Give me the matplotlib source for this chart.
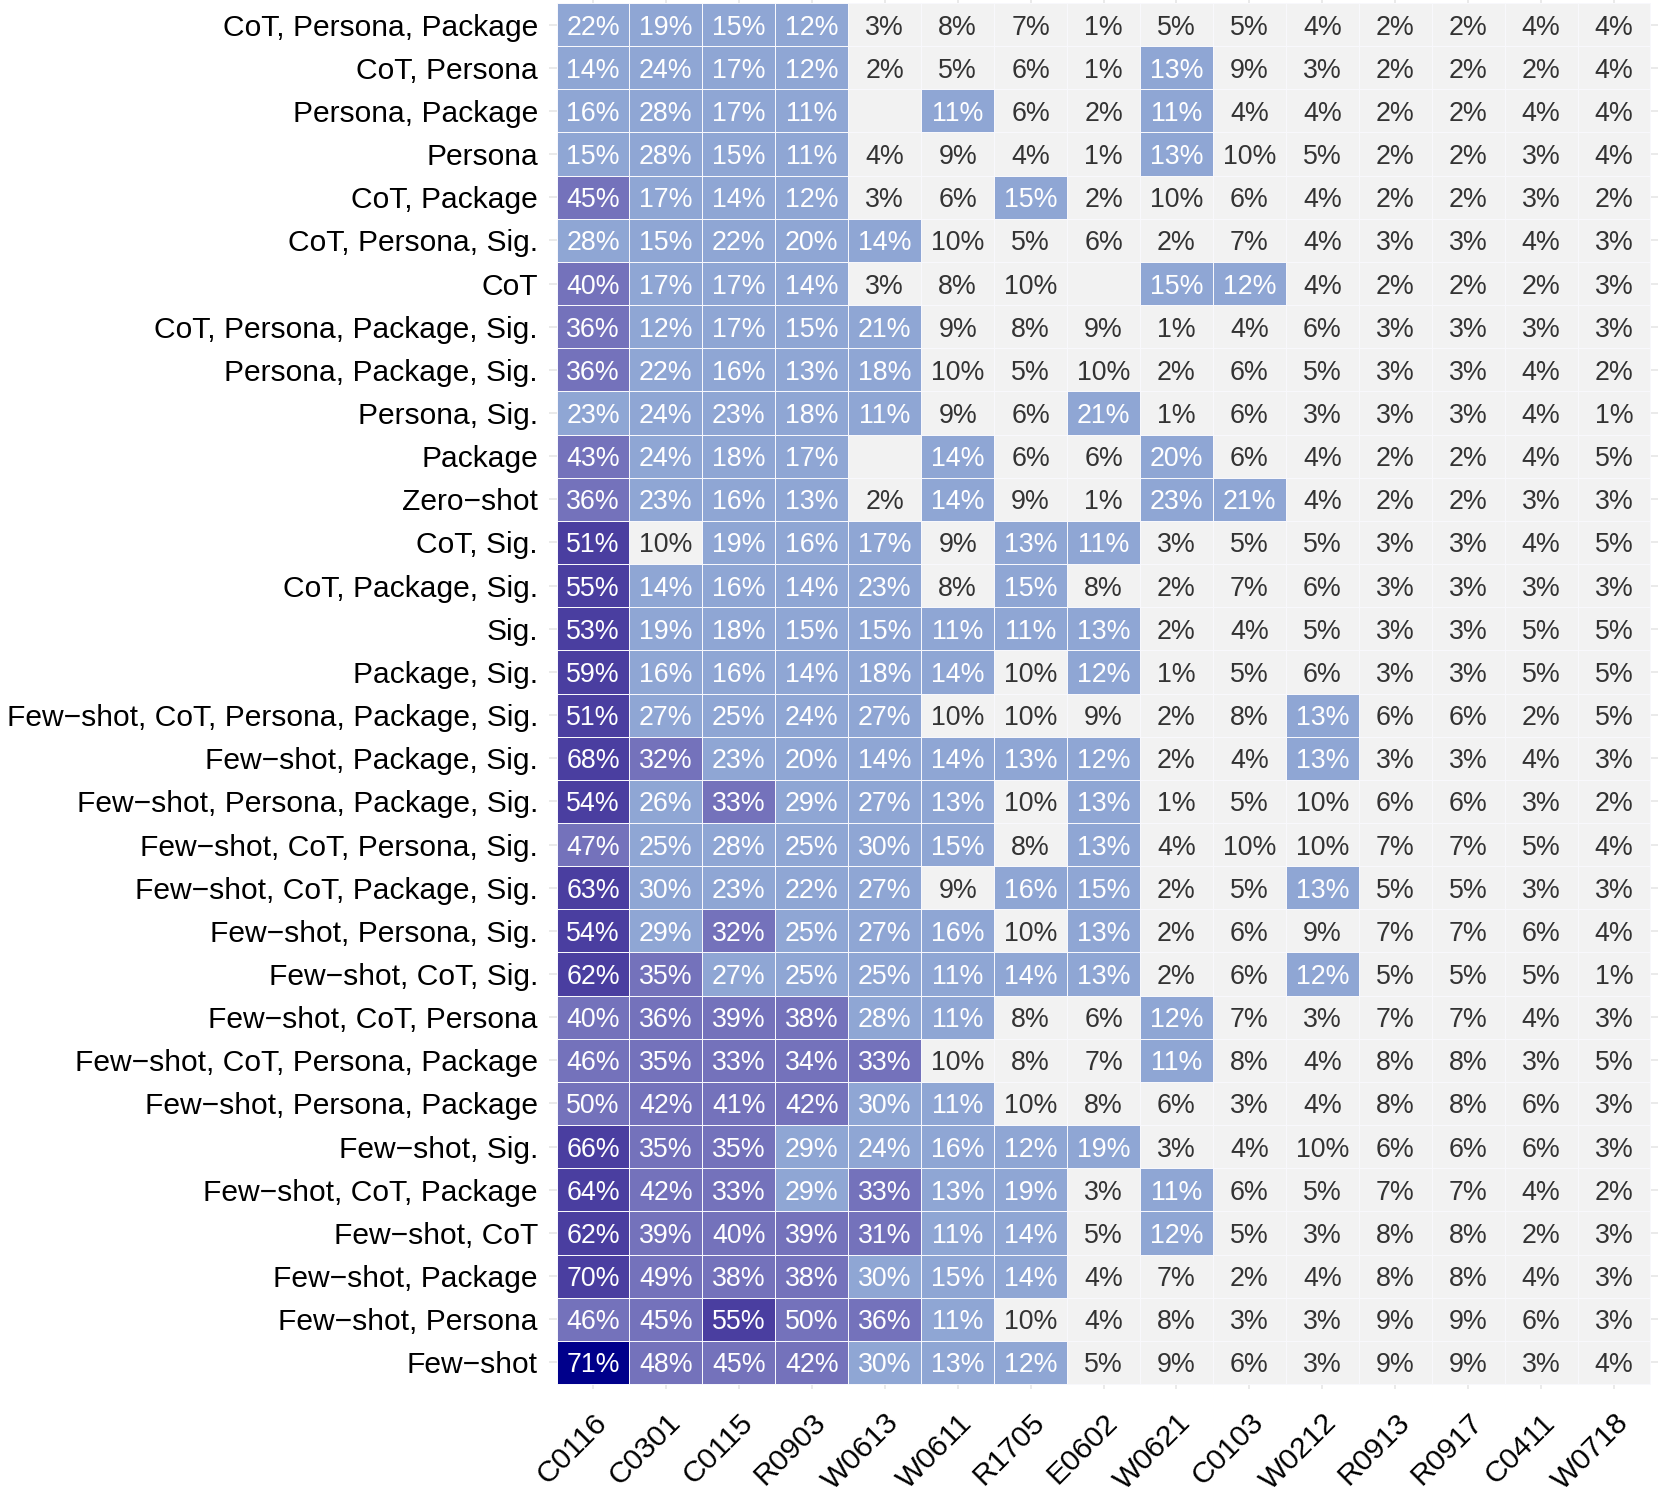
import numpy as np
import matplotlib
matplotlib.use('Agg')
import matplotlib.pyplot as plt
from matplotlib.colors import ListedColormap, BoundaryNorm

# Categorias (linhas de cima para baixo) e colunas
linhas = ['CoT, Persona, Package', 'CoT, Persona', 'Persona, Package', 'Persona',
          'CoT, Package', 'CoT, Persona, Sig.', 'CoT', 'CoT, Persona, Package, Sig.',
          'Persona, Package, Sig.', 'Persona, Sig.', 'Package', 'Zero\u2212shot',
          'CoT, Sig.', 'CoT, Package, Sig.', 'Sig.', 'Package, Sig.',
          'Few\u2212shot, CoT, Persona, Package, Sig.', 'Few\u2212shot, Package, Sig.',
          'Few\u2212shot, Persona, Package, Sig.', 'Few\u2212shot, CoT, Persona, Sig.',
          'Few\u2212shot, CoT, Package, Sig.', 'Few\u2212shot, Persona, Sig.',
          'Few\u2212shot, CoT, Sig.', 'Few\u2212shot, CoT, Persona',
          'Few\u2212shot, CoT, Persona, Package', 'Few\u2212shot, Persona, Package',
          'Few\u2212shot, Sig.', 'Few\u2212shot, CoT, Package', 'Few\u2212shot, CoT',
          'Few\u2212shot, Package', 'Few\u2212shot, Persona', 'Few\u2212shot']

colunas = ['C0116', 'C0301', 'C0115', 'R0903', 'W0613', 'W0611', 'R1705', 'E0602',
           'W0621', 'C0103', 'W0212', 'R0913', 'R0917', 'C0411', 'W0718']

N = np.nan
# Percentuais por linha (NaN = sem valor)
valores = [
    [22, 19, 15, 12, 3, 8, 7, 1, 5, 5, 4, 2, 2, 4, 4],
    [14, 24, 17, 12, 2, 5, 6, 1, 13, 9, 3, 2, 2, 2, 4],
    [16, 28, 17, 11, N, 11, 6, 2, 11, 4, 4, 2, 2, 4, 4],
    [15, 28, 15, 11, 4, 9, 4, 1, 13, 10, 5, 2, 2, 3, 4],
    [45, 17, 14, 12, 3, 6, 15, 2, 10, 6, 4, 2, 2, 3, 2],
    [28, 15, 22, 20, 14, 10, 5, 6, 2, 7, 4, 3, 3, 4, 3],
    [40, 17, 17, 14, 3, 8, 10, N, 15, 12, 4, 2, 2, 2, 3],
    [36, 12, 17, 15, 21, 9, 8, 9, 1, 4, 6, 3, 3, 3, 3],
    [36, 22, 16, 13, 18, 10, 5, 10, 2, 6, 5, 3, 3, 4, 2],
    [23, 24, 23, 18, 11, 9, 6, 21, 1, 6, 3, 3, 3, 4, 1],
    [43, 24, 18, 17, N, 14, 6, 6, 20, 6, 4, 2, 2, 4, 5],
    [36, 23, 16, 13, 2, 14, 9, 1, 23, 21, 4, 2, 2, 3, 3],
    [51, 10, 19, 16, 17, 9, 13, 11, 3, 5, 5, 3, 3, 4, 5],
    [55, 14, 16, 14, 23, 8, 15, 8, 2, 7, 6, 3, 3, 3, 3],
    [53, 19, 18, 15, 15, 11, 11, 13, 2, 4, 5, 3, 3, 5, 5],
    [59, 16, 16, 14, 18, 14, 10, 12, 1, 5, 6, 3, 3, 5, 5],
    [51, 27, 25, 24, 27, 10, 10, 9, 2, 8, 13, 6, 6, 2, 5],
    [68, 32, 23, 20, 14, 14, 13, 12, 2, 4, 13, 3, 3, 4, 3],
    [54, 26, 33, 29, 27, 13, 10, 13, 1, 5, 10, 6, 6, 3, 2],
    [47, 25, 28, 25, 30, 15, 8, 13, 4, 10, 10, 7, 7, 5, 4],
    [63, 30, 23, 22, 27, 9, 16, 15, 2, 5, 13, 5, 5, 3, 3],
    [54, 29, 32, 25, 27, 16, 10, 13, 2, 6, 9, 7, 7, 6, 4],
    [62, 35, 27, 25, 25, 11, 14, 13, 2, 6, 12, 5, 5, 5, 1],
    [40, 36, 39, 38, 28, 11, 8, 6, 12, 7, 3, 7, 7, 4, 3],
    [46, 35, 33, 34, 33, 10, 8, 7, 11, 8, 4, 8, 8, 3, 5],
    [50, 42, 41, 42, 30, 11, 10, 8, 6, 3, 4, 8, 8, 6, 3],
    [66, 35, 35, 29, 24, 16, 12, 19, 3, 4, 10, 6, 6, 6, 3],
    [64, 42, 33, 29, 33, 13, 19, 3, 11, 6, 5, 7, 7, 4, 2],
    [62, 39, 40, 39, 31, 11, 14, 5, 12, 5, 3, 8, 8, 2, 3],
    [70, 49, 38, 38, 30, 15, 14, 4, 7, 2, 4, 8, 8, 4, 3],
    [46, 45, 55, 50, 36, 11, 10, 4, 8, 3, 3, 9, 9, 6, 3],
    [71, 48, 45, 42, 30, 13, 12, 5, 9, 6, 3, 9, 9, 3, 4],
]

# Faixas de cor
limites = [0, 10.5, 30.5, 50.5, 70.5, 100]
cores = ['#F2F2F2', '#8FA6D4', '#7472BB', '#4A3EA0', '#00008B']


def main():
    plt.rcParams['font.family'] = ['Liberation Sans', 'DejaVu Sans']

    Z = np.ma.masked_invalid(np.array(valores, dtype=float))
    cmap = ListedColormap(cores)
    cmap.set_bad('#F2F2F2')
    norm = BoundaryNorm(limites, cmap.N)

    fig = plt.figure(figsize=(16.61, 14.91), dpi=100)
    # painel um pouco maior que os blocos (expansao do ggplot)
    ax = fig.add_axes([549 / 1661, (1491 - 1389) / 1491, 1109 / 1661, 1391 / 1491])

    nr, nc = Z.shape
    ex, ey = 0.103, 0.116
    # grade de fundo (aparece so nas bordas)
    for j in range(nc):
        ax.axvline(j, color='#E6E6E6', lw=1.2, zorder=0)
    for i in range(nr):
        ax.axhline(i, color='#E6E6E6', lw=1.2, zorder=0)

    ax.pcolormesh(np.arange(nc + 1) - 0.5, np.arange(nr + 1) - 0.5, Z,
                  cmap=cmap, norm=norm, edgecolors='#F8F8FC', linewidth=0.6, zorder=1)

    for i in range(nr):
        for j in range(nc):
            v = valores[i][j]
            if np.isnan(v):
                continue
            cor = 'white' if v > 10.5 else '#333333'
            ax.text(j, i, f'{int(v)}%', ha='center', va='center_baseline',
                    fontsize=19.3, color=cor, zorder=2)

    ax.set_xlim(-0.5 - ex, nc - 0.5 + ex)
    ax.set_ylim(nr - 0.5 + ey, -0.5 - ey)
    ax.set_xticks(range(nc))
    ax.set_yticks(range(nr))
    ax.set_xticklabels(colunas, rotation=45, ha='right', va='top',
                       rotation_mode='anchor', fontsize=21.6)
    ax.set_yticklabels(linhas, fontsize=21.6)
    ax.tick_params(axis='both', length=0, pad=8)
    ax.tick_params(axis='x', pad=14)
    for s in ax.spines.values():
        s.set_visible(False)

    fig.savefig('out.png', dpi=100)


if __name__ == '__main__':
    main()
